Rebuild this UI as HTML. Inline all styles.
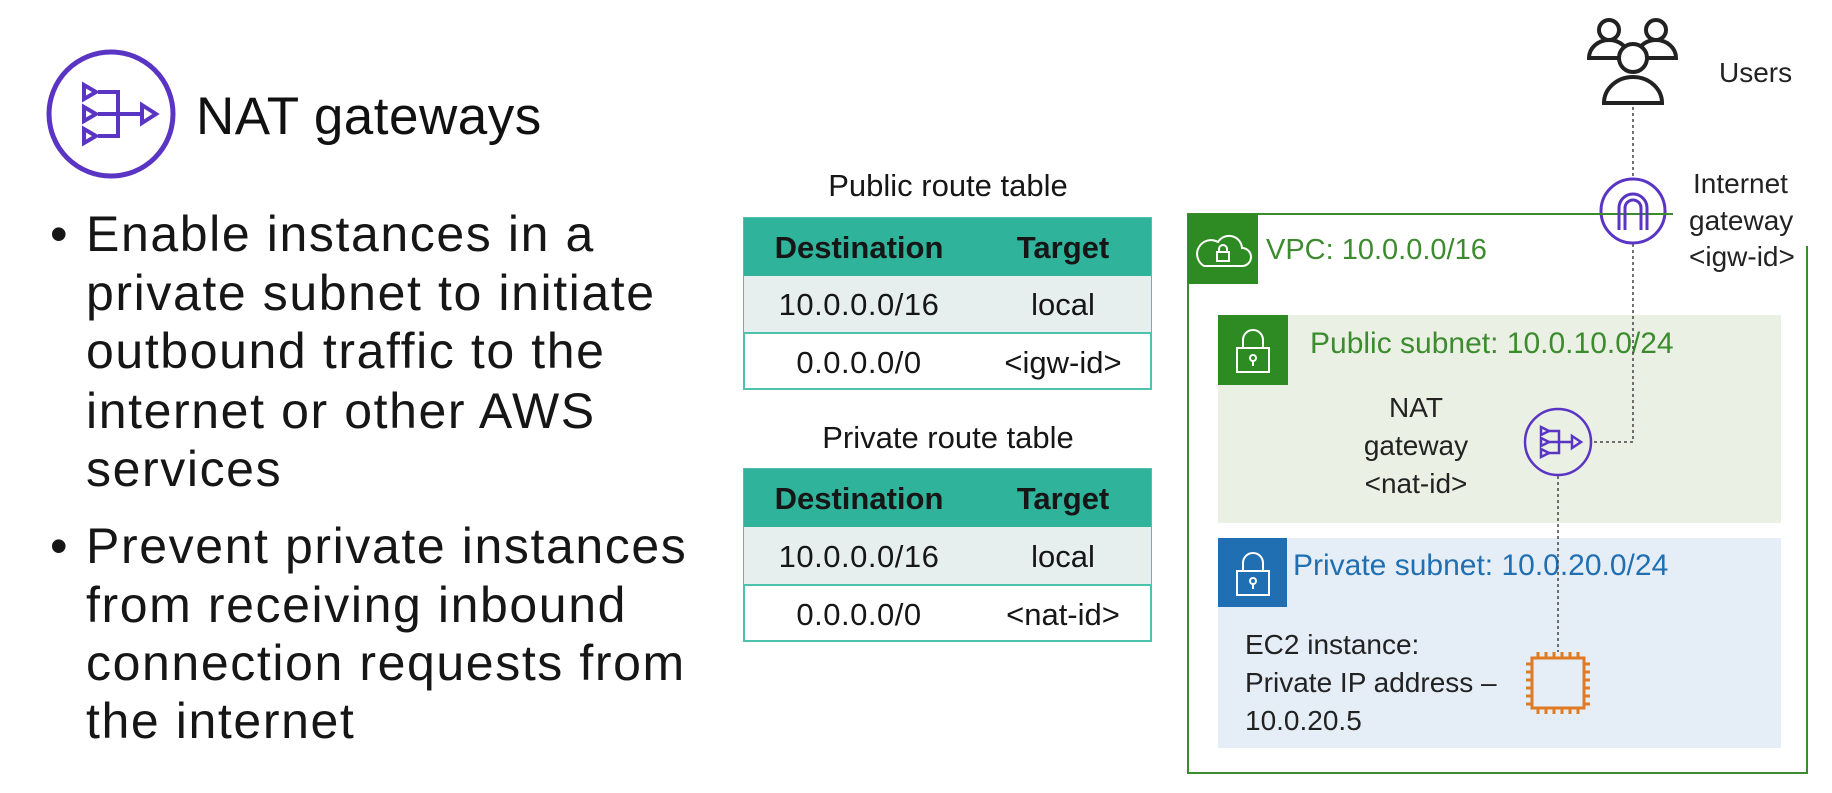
<!DOCTYPE html>
<html><head><meta charset="utf-8"><style>
html,body{margin:0;padding:0;background:#fff;}
svg{display:block}
text{font-family:"Liberation Sans",sans-serif;}
</style></head><body>
<svg width="1832" height="793" viewBox="0 0 1832 793" xmlns="http://www.w3.org/2000/svg">
<g stroke="#5a35c4" fill="none" stroke-width="5">
<circle cx="111" cy="114" r="62"/>
<path d="M84 85 L96 92 L84 99 Z M84 107 L96 114 L84 121 Z M84 129 L96 136 L84 143 Z" stroke-width="4"/>
<path d="M98 92 H118 V136 H98 M98 114 H142" stroke-width="4"/>
<path d="M142 105 L156 114 L142 123 Z" stroke-width="4"/>
</g>
<text x="196" y="134" font-size="53" letter-spacing="0.5" fill="#111">NAT gateways</text>
<g font-size="50" letter-spacing="1.6" fill="#161616">
<text x="50" y="251">•</text>
<text x="86" y="251">Enable instances in a</text>
<text x="86" y="310">private subnet to initiate</text>
<text x="86" y="368">outbound traffic to the</text>
<text x="86" y="428">internet or other AWS</text>
<text x="86" y="486">services</text>
<text x="50" y="563">•</text>
<text x="86" y="563">Prevent private instances</text>
<text x="86" y="622">from receiving inbound</text>
<text x="86" y="680">connection requests from</text>
<text x="86" y="738">the internet</text>
</g>
<g font-size="31" fill="#161616" text-anchor="middle">
<text x="948" y="196" font-size="31">Public route table</text>
<rect x="744" y="218" width="407" height="171" fill="#fff" stroke="#4fc2ad" stroke-width="2"/>
<rect x="744" y="218" width="407" height="58" fill="#2fb39b"/>
<rect x="744" y="276" width="407" height="57" fill="#e6efee"/>
<line x1="744" y1="333" x2="1151" y2="333" stroke="#4fc2ad" stroke-width="2"/>
<text x="859" y="258" font-weight="bold" font-size="31">Destination</text>
<text x="1063" y="258" font-weight="bold" font-size="31">Target</text>
<text x="859" y="315" letter-spacing="0.5">10.0.0.0/16</text><text x="1063" y="315">local</text>
<text x="859" y="373" letter-spacing="0.5">0.0.0.0/0</text><text x="1063" y="373">&lt;igw-id&gt;</text>

<text x="948" y="448" font-size="31">Private route table</text>
<rect x="744" y="469" width="407" height="172" fill="#fff" stroke="#4fc2ad" stroke-width="2"/>
<rect x="744" y="469" width="407" height="58" fill="#2fb39b"/>
<rect x="744" y="527" width="407" height="58" fill="#e6efee"/>
<line x1="744" y1="585" x2="1151" y2="585" stroke="#4fc2ad" stroke-width="2"/>
<text x="859" y="509" font-weight="bold" font-size="31">Destination</text>
<text x="1063" y="509" font-weight="bold" font-size="31">Target</text>
<text x="859" y="567" letter-spacing="0.5">10.0.0.0/16</text><text x="1063" y="567">local</text>
<text x="859" y="625" letter-spacing="0.5">0.0.0.0/0</text><text x="1063" y="625">&lt;nat-id&gt;</text>
</g>
<path d="M1673 214 H1188 V773 H1807 V246" fill="none" stroke="#3d8b2f" stroke-width="2"/>
<rect x="1188" y="214" width="70" height="70" fill="#2e8b24"/>
<path d="M1204 266 h38 a9 9 0 0 0 0-18 a13 13 0 0 0-24-6 a10 10 0 0 0-14 24z" fill="none" stroke="#fff" stroke-width="2"/>
<rect x="1217" y="252" width="12" height="9" fill="none" stroke="#fff" stroke-width="2"/>
<path d="M1219 252 v-3 a4 4 0 0 1 8 0 v3" fill="none" stroke="#fff" stroke-width="2"/>
<text x="1266" y="259" font-size="29" fill="#3d8b2f">VPC: 10.0.0.0/16</text>
<rect x="1218" y="315" width="563" height="208" fill="#eaf0e4"/>
<rect x="1218" y="315" width="70" height="70" fill="#2e8b24"/>
<rect x="1237" y="348" width="32" height="24" fill="none" stroke="#fff" stroke-width="2"/>
<path d="M1243 348 v-8 a10 10 0 0 1 20 0 v8" fill="none" stroke="#fff" stroke-width="2"/>
<circle cx="1253" cy="358" r="3" fill="none" stroke="#fff" stroke-width="2"/><line x1="1253" y1="361" x2="1253" y2="366" stroke="#fff" stroke-width="2"/>
<text x="1310" y="353" font-size="30" fill="#3d8b2f">Public subnet: 10.0.10.0/24</text>
<rect x="1218" y="538" width="563" height="210" fill="#e5eef6"/>
<rect x="1218" y="538" width="69" height="69" fill="#1f6fb2"/>
<rect x="1237" y="571" width="32" height="24" fill="none" stroke="#fff" stroke-width="2"/>
<path d="M1243 571 v-8 a10 10 0 0 1 20 0 v8" fill="none" stroke="#fff" stroke-width="2"/>
<circle cx="1253" cy="581" r="3" fill="none" stroke="#fff" stroke-width="2"/><line x1="1253" y1="584" x2="1253" y2="589" stroke="#fff" stroke-width="2"/>
<text x="1293" y="575" font-size="30" fill="#1f6fb2">Private subnet: 10.0.20.0/24</text>
<g stroke="#444" stroke-width="1.5" stroke-dasharray="3,3" fill="none">
<path d="M1633 107 V177"/>
<path d="M1633 244 V442 H1592"/>
<path d="M1558 476 V652"/>
</g>
<g fill="none" stroke="#222" stroke-width="4">
<circle cx="1609" cy="30" r="10"/><path d="M1589 58 a20 18 0 0 1 40 0 z"/>
<circle cx="1656" cy="30" r="10"/><path d="M1636 58 a20 18 0 0 1 40 0 z"/>
<circle cx="1633" cy="58" r="14" fill="#fff"/><path d="M1604 103 a29 26 0 0 1 58 0 z" fill="#fff"/>
</g>
<text x="1719" y="82" font-size="28" fill="#222">Users</text>
<circle cx="1633" cy="211" r="32" fill="#fff" stroke="#5a35c4" stroke-width="3"/>
<line x1="1600" y1="214" x2="1673" y2="214" stroke="#3d8b2f" stroke-width="2"/>
<path d="M1619 230 V208 a14 14 0 0 1 28 0 V230 M1625 230 V208 a8 8 0 0 1 16 0 V230" fill="none" stroke="#5a35c4" stroke-width="3"/>
<g font-size="28" fill="#222"><text x="1693" y="193">Internet</text><text x="1689" y="230">gateway</text><text x="1689" y="266">&lt;igw-id&gt;</text></g>
<g stroke="#5a35c4" fill="none" stroke-width="2.5">
<circle cx="1558" cy="442" r="33"/>
<path d="M1541 427 l8 4 l-8 4z M1541 438 l8 4 l-8 4z M1541 449 l8 4 l-8 4z"/>
<path d="M1549 431 H1559 V453 H1549 M1549 442 H1572"/>
<path d="M1572 436 l9 6 l-9 6z"/>
</g>
<g font-size="28" fill="#222" text-anchor="middle"><text x="1416" y="417">NAT</text><text x="1416" y="455">gateway</text><text x="1416" y="493">&lt;nat-id&gt;</text></g>
<g stroke="#e07b25" fill="none" stroke-width="3">
<rect x="1532" y="658" width="52" height="50"/>
<path d="M1538 652 v6 M1546 652 v6 M1554 652 v6 M1562 652 v6 M1570 652 v6 M1578 652 v6 M1538 708 v6 M1546 708 v6 M1554 708 v6 M1562 708 v6 M1570 708 v6 M1578 708 v6 M1526 664 h6 M1526 672 h6 M1526 680 h6 M1526 688 h6 M1526 696 h6 M1526 704 h6 M1584 664 h6 M1584 672 h6 M1584 680 h6 M1584 688 h6 M1584 696 h6 M1584 704 h6"/>
</g>
<g font-size="28" fill="#222"><text x="1245" y="654">EC2 instance:</text><text x="1245" y="692">Private IP address –</text><text x="1245" y="730">10.0.20.5</text></g>
</svg>
</body></html>
